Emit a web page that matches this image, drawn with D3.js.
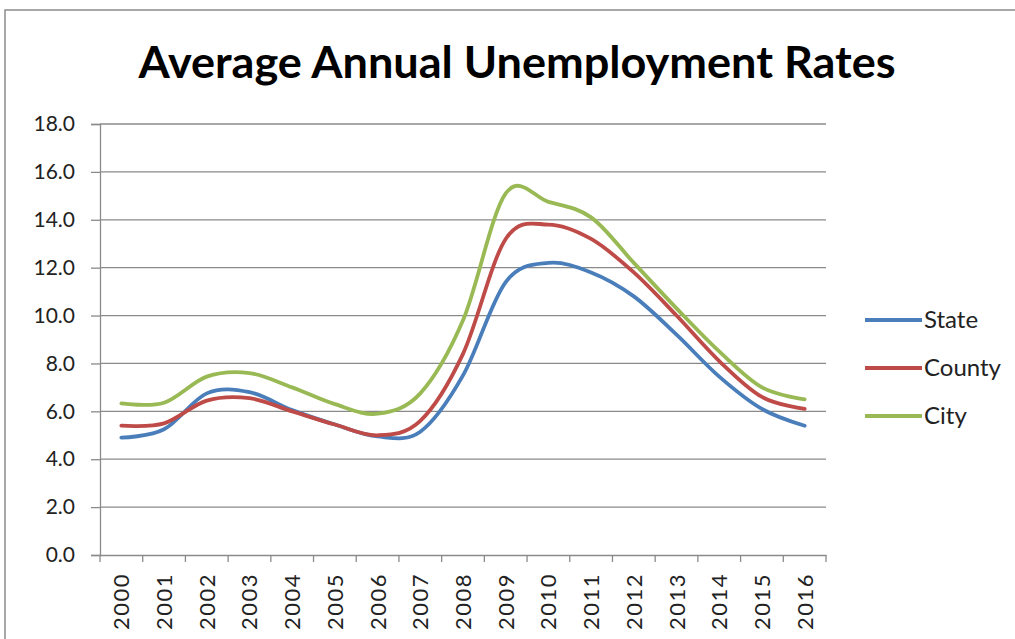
<!DOCTYPE html>
<html>
<head>
<meta charset="utf-8">
<script src="https://cdn.jsdelivr.net/npm/d3@7"></script>
<style>
  body { margin: 0; background: #fff; }
  svg text { font-family: Lato, "Open Sans", sans-serif; fill: #222; }
</style>
</head>
<body>
<div id="chart"></div>
<script>
// Average annual unemployment rates
const years = ["2000","2001","2002","2003","2004","2005","2006","2007","2008",
               "2009","2010","2011","2012","2013","2014","2015","2016"];
const stateRates  = [4.9, 5.25, 6.75, 6.8, 6.05, 5.45, 4.95, 5.15, 7.5, 11.4, 12.2, 11.8, 10.8, 9.2, 7.45, 6.1, 5.4];
const countyRates = [5.4, 5.5, 6.45, 6.55, 6.0, 5.45, 5.0, 5.6, 8.4, 13.2, 13.8, 13.2, 11.8, 10.0, 8.1, 6.6, 6.1];
const cityRates   = [6.33, 6.36, 7.45, 7.6, 7.0, 6.3, 5.9, 6.75, 9.8, 15.1, 14.75, 14.1, 12.2, 10.3, 8.5, 7.0, 6.5];
const yTicks = [0, 2, 4, 6, 8, 10, 12, 14, 16, 18];

const seriesNames = ["State", "County", "City"];
const seriesColors = ["#4a7ebb", "#be4b48", "#98b954"];

const W = 1015, H = 639;
const margin = {top: 124, right: 189, bottom: 84, left: 100};
const width = W - margin.left - margin.right;
const height = H - margin.top - margin.bottom;

const svgRoot = d3.select("#chart").append("svg")
    .attr("width", W)
    .attr("height", H);

// outer chart frame (partly cropped in the original)
svgRoot.append("rect")
    .attr("x", 5).attr("y", 10)
    .attr("width", W + 20).attr("height", H + 20)
    .attr("fill", "#fff")
    .attr("stroke", "#8c8c8c")
    .attr("stroke-width", 1.5);

// title, stretched to the width of the reference title
svgRoot.append("text")
    .attr("x", 517)
    .attr("y", 78)
    .attr("text-anchor", "middle")
    .attr("textLength", 757)
    .attr("lengthAdjust", "spacingAndGlyphs")
    .style("font-size", "44px")
    .style("font-weight", "bold")
    .style("fill", "#000")
    .text("Average Annual Unemployment Rates");

const svg = svgRoot.append("g")
    .attr("transform", `translate(${margin.left},${margin.top})`);

const x = d3.scaleBand().domain(years).range([0, width]);
const y = d3.scaleLinear().domain([0, 18]).range([height, 0]);

// gridlines
svg.selectAll(".grid")
    .data(yTicks.filter(d => d > 0))
    .enter().append("line")
    .attr("x1", 0).attr("x2", width)
    .attr("y1", d => y(d)).attr("y2", d => y(d))
    .attr("stroke", "#8a8a8a")
    .attr("stroke-width", 1.3);

// y axis
const yAxis = svg.append("g")
    .call(d3.axisLeft(y).tickValues(yTicks).tickFormat(d3.format(".1f")).tickSize(9).tickPadding(16));
yAxis.select(".domain").attr("stroke", "#8a8a8a").attr("stroke-width", 1.3);
yAxis.selectAll(".tick line").attr("stroke", "#8a8a8a").attr("stroke-width", 1.3);
yAxis.selectAll("text").style("font-size", "21px").style("fill", "#222");

// x axis: line plus ticks on category boundaries
const xAxis = svg.append("g")
    .attr("transform", `translate(0,${height})`)
    .call(d3.axisBottom(x).tickSize(0).tickPadding(0));
xAxis.select(".domain").attr("stroke", "#8a8a8a").attr("stroke-width", 1.3);
xAxis.selectAll("text")
    .style("font-size", "22px")
    .style("letter-spacing", "1.5px")
    .style("fill", "#222")
    .attr("text-anchor", "end")
    .attr("dy", null)
    .attr("transform", "translate(8,18) rotate(-90)");
xAxis.selectAll(".boundary")
    .data(d3.range(years.length + 1))
    .enter().append("line")
    .attr("class", "boundary")
    .attr("x1", i => i * x.step()).attr("x2", i => i * x.step())
    .attr("y1", 0).attr("y2", 7)
    .attr("stroke", "#8a8a8a")
    .attr("stroke-width", 1.3);

// smoothed lines (Excel-style smoothing)
const line = d3.line()
    .x((d, i) => x(years[i]) + x.bandwidth() / 2)
    .y(d => y(d))
    .curve(d3.curveCatmullRom.alpha(0));

[stateRates, countyRates, cityRates].forEach((vals, k) => {
    svg.append("path")
        .datum(vals)
        .attr("fill", "none")
        .attr("stroke", seriesColors[k])
        .attr("stroke-width", 3.8)
        .attr("stroke-linecap", "round")
        .attr("d", line);
});

// legend
const legend = svgRoot.append("g")
    .attr("transform", "translate(865,320)");
seriesNames.forEach((name, i) => {
    const row = legend.append("g").attr("transform", `translate(0,${i * 48})`);
    row.append("line")
        .attr("x1", 0).attr("x2", 57)
        .attr("y1", 0).attr("y2", 0)
        .attr("stroke", seriesColors[i])
        .attr("stroke-width", 3.8);
    row.append("text")
        .attr("x", 59)
        .attr("y", 8)
        .style("font-size", "24px")
        .style("fill", "#222")
        .text(name);
});
</script>
</body>
</html>
